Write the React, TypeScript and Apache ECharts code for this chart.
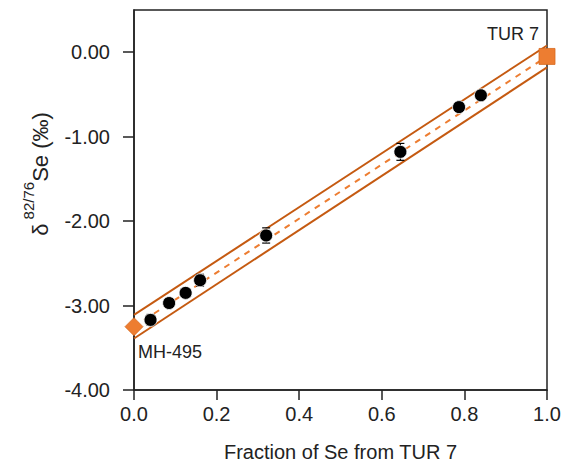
import React, { useEffect, useRef } from "react";
import * as echarts from "echarts";

const xTicks = [0, 0.2, 0.4, 0.6, 0.8, 1.0];
const yTicks = [-4, -3, -2, -1, 0];

// mixture samples: fraction, delta, error
const sampleX = [0.04, 0.085, 0.125, 0.16, 0.32, 0.645, 0.787, 0.84];
const sampleY = [-3.17, -2.97, -2.85, -2.7, -2.17, -1.18, -0.65, -0.51];
const sampleErr = [0.065, 0.04, 0.04, 0.07, 0.09, 0.1, 0.04, 0.04];

const endMembers = [
  { name: "MH-495", x: 0, y: -3.25 },
  { name: "TUR 7", x: 1, y: -0.05 },
];

const mixLine = [[0, -3.25], [1, -0.05]];
const upperLine = [[0, -3.11], [1, 0.08]];
const lowerLine = [[0, -3.39], [1, -0.18]];

const FONT = "Liberation Sans, Arial, sans-serif";

export default function App() {
  const ref = useRef<HTMLDivElement>(null);
  useEffect(() => {
    if (!ref.current) return;
    const chart = echarts.init(ref.current, undefined, { renderer: "svg" });
    const axisColor = "#222";
    chart.setOption({
      animation: false,
      textStyle: { fontFamily: FONT },
      grid: {
        left: 134,
        right: 21,
        top: 10,
        bottom: 80,
        show: true,
        borderColor: axisColor,
        borderWidth: 1.5,
        backgroundColor: "transparent",
      },
      xAxis: {
        type: "value",
        min: xTicks[0],
        max: xTicks[xTicks.length - 1],
        interval: 0.2,
        axisLine: { show: true, onZero: false, lineStyle: { color: axisColor, width: 1.5 } },
        axisTick: { show: true, length: 10, lineStyle: { color: axisColor, width: 1.5 } },
        splitLine: { show: false },
        axisLabel: {
          color: "#222",
          fontSize: 20,
          fontFamily: FONT,
          margin: 14,
          formatter: (v: number) => v.toFixed(1),
        },
        name: "Fraction of Se from TUR 7",
        nameLocation: "middle",
        nameGap: 52,
        nameTextStyle: { color: "#222", fontSize: 20, fontFamily: FONT },
      },
      yAxis: {
        type: "value",
        min: yTicks[0],
        max: 0.5,
        interval: 1,
        axisLine: { show: true, onZero: false, lineStyle: { color: axisColor, width: 1.5 } },
        axisTick: { show: true, length: 11, lineStyle: { color: axisColor, width: 1.5 } },
        splitLine: { show: false },
        axisLabel: {
          color: "#222",
          fontSize: 20,
          fontFamily: FONT,
          margin: 24,
          showMaxLabel: false,
          formatter: (v: number) => (v > 0.1 ? "" : v.toFixed(2)),
        },
      },
      graphic: [
        {
          type: "text",
          x: 36,
          y: 174,
          rotation: Math.PI / 2,
          style: {
            text: "{d|δ}{s| 82/76}{m|Se (‰)}",
            align: "center",
            verticalAlign: "middle",
            fill: "#222",
            fontFamily: FONT,
            rich: {
              d: { fontSize: 22, fontFamily: FONT, fill: "#222", lineHeight: 30, verticalAlign: "bottom" },
              s: { fontSize: 15, fontFamily: FONT, fill: "#222", lineHeight: 30, verticalAlign: "top", padding: [0, 0, 12, 0] },
              m: { fontSize: 22, fontFamily: FONT, fill: "#222", lineHeight: 30, verticalAlign: "bottom" },
            },
          },
        },
      ],
      series: [
        {
          type: "line",
          data: upperLine,
          symbol: "none",
          lineStyle: { color: "#c55a11", width: 2 },
          z: 2,
        },
        {
          type: "line",
          data: lowerLine,
          symbol: "none",
          lineStyle: { color: "#c55a11", width: 2 },
          z: 2,
        },
        {
          type: "line",
          data: mixLine,
          symbol: "none",
          lineStyle: { color: "#ed7d31", width: 2, type: [6, 6] },
          z: 2,
        },
        {
          type: "custom",
          data: sampleX.map((x, i) => [x, sampleY[i], sampleErr[i]]),
          z: 3,
          renderItem: (params: any, api: any) => {
            const x = api.value(0);
            const y = api.value(1);
            const e = api.value(2);
            const top = api.coord([x, y + e]);
            const bot = api.coord([x, y - e]);
            const hw = 4;
            const style = { stroke: "#000", lineWidth: 1.2 };
            return {
              type: "group",
              children: [
                { type: "line", shape: { x1: top[0], y1: top[1], x2: bot[0], y2: bot[1] }, style },
                { type: "line", shape: { x1: top[0] - hw, y1: top[1], x2: top[0] + hw, y2: top[1] }, style },
                { type: "line", shape: { x1: bot[0] - hw, y1: bot[1], x2: bot[0] + hw, y2: bot[1] }, style },
              ],
            };
          },
        },
        {
          type: "scatter",
          data: sampleX.map((x, i) => [x, sampleY[i]]),
          symbol: "circle",
          symbolSize: 13,
          itemStyle: { color: "#000", borderColor: "#fff", borderWidth: 0.8, opacity: 1 },
          z: 4,
        },
        {
          type: "scatter",
          clip: false,
          z: 5,
          data: [
            {
              value: [endMembers[0].x, endMembers[0].y],
              symbol: "diamond",
              symbolSize: [18, 18],
              label: {
                show: true,
                formatter: endMembers[0].name,
                position: "bottom",
                offset: [36, 2],
                color: "#222",
                fontSize: 18,
                fontFamily: FONT,
              },
            },
            {
              value: [endMembers[1].x, endMembers[1].y],
              symbol: "rect",
              symbolSize: [16, 16],
              label: {
                show: true,
                formatter: endMembers[1].name,
                position: "top",
                offset: [-34, 0],
                color: "#222",
                fontSize: 18,
                fontFamily: FONT,
              },
            },
          ],
          itemStyle: { color: "#ed7d31", borderColor: "#d86a20", borderWidth: 0.8, opacity: 1 },
        },
      ],
    });
    return () => chart.dispose();
  }, []);
  return <div ref={ref} style={{ position: "absolute", left: 0, top: 0, width: 568, height: 470 }} />;
}
